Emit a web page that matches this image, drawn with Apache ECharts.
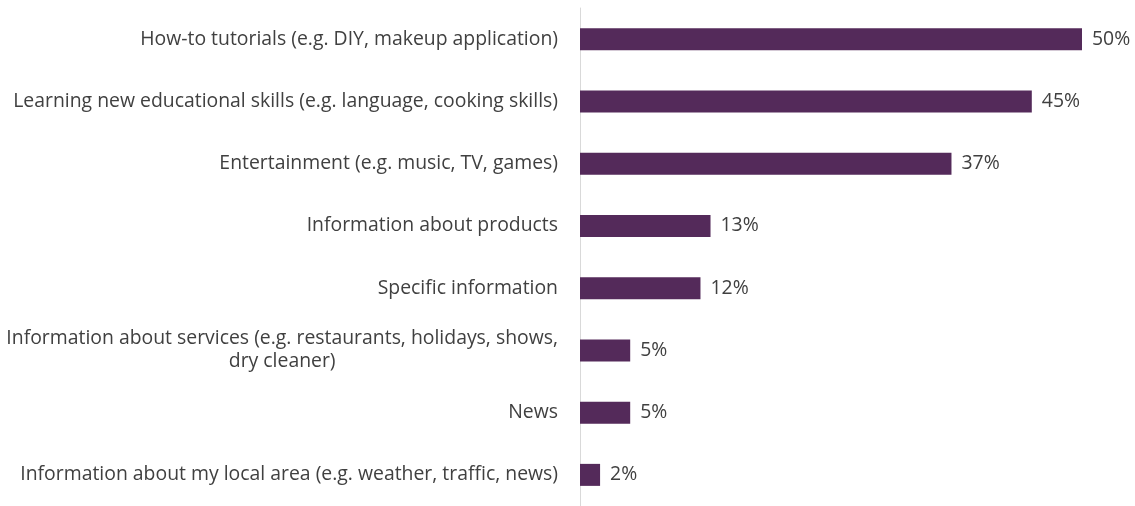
<!DOCTYPE html>
<html>
<head>
<meta charset="utf-8">
<script src="https://cdn.jsdelivr.net/npm/echarts@6/dist/echarts.min.js"></script>
<style>
  html, body { margin: 0; padding: 0; background: #fff; }
  #chart { width: 1135px; height: 506px; }
</style>
</head>
<body>
<div id="chart"></div>
<script>
// categories top to bottom, values in percent
const categories = [
    'How-to tutorials (e.g. DIY, makeup application)',
    'Learning new educational skills (e.g. language, cooking skills)',
    'Entertainment (e.g. music, TV, games)',
    'Information about products',
    'Specific information',
    'Information about services (e.g. restaurants, holidays, shows,\ndry cleaner)',
    'News',
    'Information about my local area (e.g. weather, traffic, news)'
];
const values = [50, 45, 37, 13, 12, 5, 5, 2];

const myChart = echarts.init(document.getElementById('chart'));

const option = {
    animation: false,
    textStyle: { fontFamily: 'Open Sans' },
    grid: { left: 580, right: 53, top: 8, height: 505, containLabel: false },
    xAxis: {
        type: 'value',
        min: 0,
        max: 50,
        show: false
    },
    yAxis: {
        type: 'category',
        inverse: true,
        data: categories,
        axisLine: { show: true, lineStyle: { color: '#d9d9d9', width: 1 } },
        axisTick: { show: false },
        axisLabel: {
            margin: 22,
            color: '#404040',
            fontSize: 19.4,
            lineHeight: 23,
            formatter: function (v) {
                // wrapped label: first line right, second line centred
                const parts = v.split('\n');
                if (parts.length === 1) return v;
                return '{r|' + parts[0] + '}\n{c|' + parts[1] + '}';
            },
            rich: {
                r: { color: '#404040', fontSize: 19.4, lineHeight: 23, align: 'right' },
                c: { color: '#404040', fontSize: 19.4, lineHeight: 23, align: 'center' }
            }
        }
    },
    series: [{
        type: 'bar',
        data: values,
        barWidth: 22,
        itemStyle: { color: '#542A5A' },
        label: {
            show: true,
            position: 'right',
            distance: 10,
            color: '#404040',
            fontSize: 19.4,
            formatter: '{c}%'
        }
    }]
};

myChart.setOption(option);
window.addEventListener('resize', () => myChart.resize());
</script>
</body>
</html>
